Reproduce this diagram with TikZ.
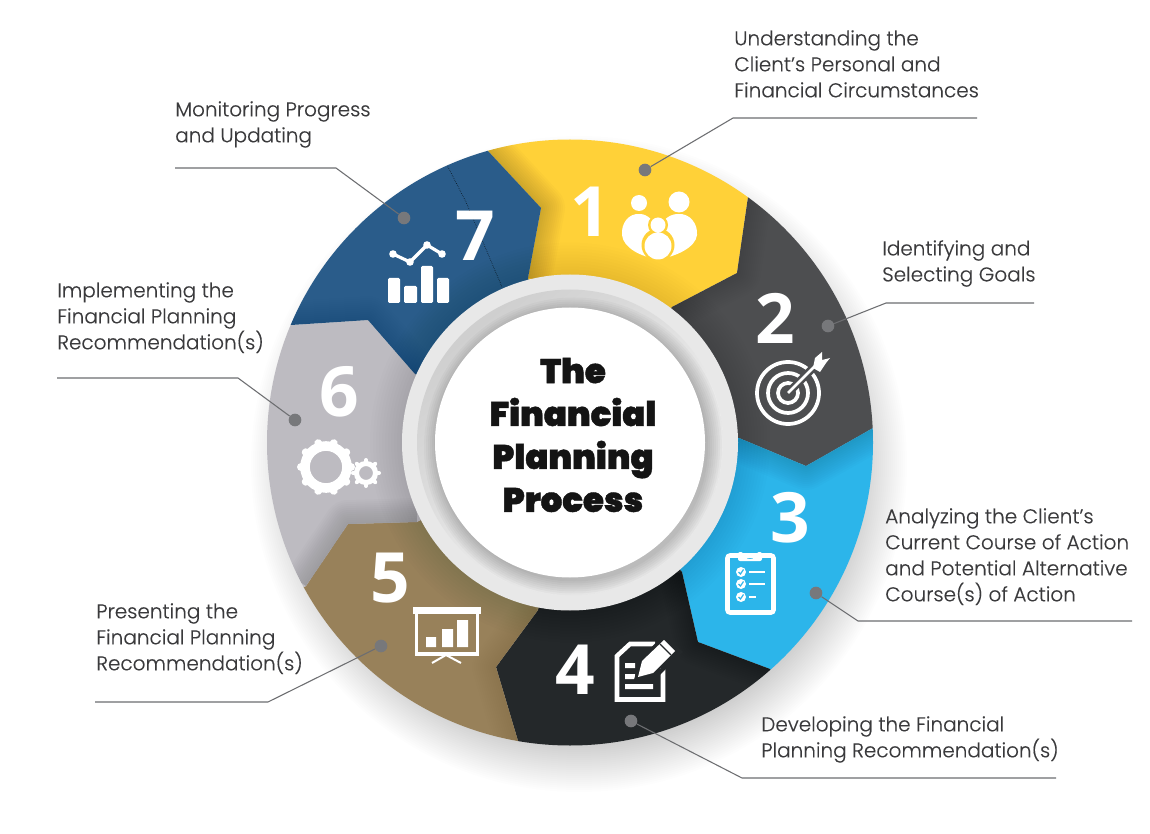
\documentclass[tikz,border=0pt]{standalone}
\usepackage{fontspec}
\usetikzlibrary{calc}
\setmainfont{Poppins}[UprightFont={* Light}]
\newfontfamily\lblf{Poppins}[UprightFont={* Light},FakeBold=0.35]
\newfontfamily\numf{Open Sans}[UprightFont={* Bold}]
\newfontfamily\titlef{Poppins}[UprightFont={* Black},FakeBold=1.2]
\definecolor{cYellow}{HTML}{FFD138}
\definecolor{cSlate}{HTML}{4D4E50}
\definecolor{cSky}{HTML}{2CB5EA}
\definecolor{cInk}{HTML}{24282A}
\definecolor{cBrown}{HTML}{98815A}
\definecolor{cGrey}{HTML}{BDBBC1}
\definecolor{cNavy}{HTML}{2A5C8A}
\definecolor{cDot}{HTML}{77787B}
\definecolor{cLead}{HTML}{6D6E71}
\definecolor{cText}{HTML}{3A3A3C}
\tikzset{
  x=0.75pt,y=-0.75pt,
  numeral/.style={font=\numf\fontsize{52}{52}\selectfont,text=white,inner sep=0pt},
  label/.style={font=\lblf\fontsize{15}{19.5}\selectfont,text=cText,align=left,anchor=north west,inner sep=0pt},
  dotmark/.style={circle,fill=cDot,minimum size=9.5pt,inner sep=0pt},
  leader/.style={draw=cLead,line width=0.8pt},
  ico/.style={draw=white,line width=2.4pt},
}
\newcommand{\seg}[4]{%
  \begin{scope}
    \clip (c) -- (i#1) -- (m#1) -- (o#1) -- ($(c)!1.5!(o#1)$) -- ($(c)!1.5!(o#2)$) -- (o#2) -- (m#2) -- (i#2) -- cycle;
    \fill[#3] (c) circle [radius=310];
    \foreach \w in {3,6,...,36}
      \draw[black,opacity=#4,line width=\w pt,line join=round] (i#1) -- (m#1) -- (o#1);
  \end{scope}}
\begin{document}
\begin{tikzpicture}
\useasboundingbox (0,0) rectangle (1150,834);
\fill[white] (0,0) rectangle (1150,834);
\coordinate (c) at (570,442.5);
% boundaries between neighbouring segments
\coordinate (i1) at (528,278); \coordinate (m1) at (541,208); \coordinate (o1) at (488,151);
\coordinate (i2) at (672,307); \coordinate (m2) at (737,273); \coordinate (o2) at (748,197);
\coordinate (i3) at (739,438); \coordinate (m3) at (806,466); \coordinate (o3) at (873,428);
\coordinate (i4) at (682,572); \coordinate (m4) at (698,642); \coordinate (o4) at (770,669);
\coordinate (i5) at (538,610); \coordinate (m5) at (496,667); \coordinate (o5) at (518,741);
\coordinate (i6) at (417,522); \coordinate (m6) at (348,524); \coordinate (o6) at (306,586);
\coordinate (i7) at (415,374); \coordinate (m7) at (368,320); \coordinate (o7) at (291,325);
% soft shadow under the wheel
\coordinate (sh) at (579,464);
\foreach \r in {280,282,...,328}
  \fill[black,opacity=.0095] (sh) circle [radius=\r];
% wheel
\begin{scope}
  \clip (c) circle [radius=303];
  \seg{1}{2}{cYellow}{.016}
  \seg{2}{3}{cSlate}{.004}
  \seg{3}{4}{cSky}{.012}
  \seg{4}{5}{cInk}{.003}
  \seg{5}{6}{cBrown}{.005}
  \seg{6}{7}{cGrey}{.013}
  \seg{7}{1}{cNavy}{.005}
  \foreach \r in {170,173,...,200}
    \fill[black,opacity=.009] (c) circle [radius=\r];
  \draw[black,line width=.4pt,densely dotted] (447,165) -- (466,202) -- (502,287);
\end{scope}
% centre hub
\fill[fill=white!91!black] (c) circle [radius=168];
\shade[top color=white!81!black,bottom color=white!97!black,shading angle=40] (c) circle [radius=153];
\begin{scope}
  \clip (c) circle [radius=153];
  \foreach \r in {134,136,...,150}
    \fill[black,opacity=.028] ($(c)+(4,5)$) circle [radius=\r];
\end{scope}
\fill[white] (c) circle [radius=135];
\node[font=\titlef\fontsize{25.5}{32.2}\selectfont,text=black!92,align=center,inner sep=0pt] (title) at (573,435) {The\\Financial\\Planning\\Process};
% numerals
\node[numeral] (n1) at (590,212) {1};
\node[numeral] (n2) at (775,318) {2};
\node[numeral] (n3) at (790,518) {3};
\node[numeral] (n4) at (575,670) {4};
\node[numeral] (n5) at (390,578) {5};
\node[numeral] (n6) at (339,392) {6};
\node[numeral] (n7) at (475,236) {7};
% icon 1: family
\fill[white] (639,203) circle [radius=8] (679,202) circle [radius=10.5];
\fill[white] (640,214) .. controls (628,213) and (621,224) .. (622,235) .. controls (623,247) and (640,257) .. (658,259)
  .. controls (676,257) and (696,247) .. (697,235) .. controls (698,224) and (690,213) .. (678,214) .. controls (668,214) and (662,222) .. (658,228) .. controls (654,222) and (648,214) .. (640,214) -- cycle;
\fill[cYellow] (658,245) circle [radius=16.5] (658,225) circle [radius=10];
\fill[white] (658,225) circle [radius=7.5] (658,246) circle [radius=13.5];
% icon 2: target
\begin{scope}[line width=2.8pt]
  \draw[white] (788,393) circle [radius=31];
  \draw[white] (788,393) circle [radius=20];
  \draw[white] (788,393) circle [radius=10];
  \draw[cSlate,line width=6pt] (788,393) -- (820,361);
  \draw[white,line width=2.1pt] (788,393) -- (820,361);
  \fill[white] (813,368) -- (815,358) -- (822,352) -- (822,360) -- (830,358) -- (826,363) -- (820,372) -- cycle;
\end{scope}
% icon 3: clipboard
\draw[draw=white,line width=3.5pt,rounded corners=2pt] (727.5,555.5) rectangle (773.5,612.5);
\fill[white,rounded corners=1.5pt] (738,561) -- (738,552) -- (743,552) arc [start angle=180,end angle=0,radius=7] -- (762,552) -- (762,561) -- cycle;
\fill[cSky] (750,550) circle [radius=2.5];
\foreach \yy/\xe in {572/765,584/765,597/756}{
  \fill[white] (741,\yy) circle [radius=5];
  \draw[white,line width=1.8pt] (749,\yy) -- (\xe,\yy);
  \draw[cSky,line width=.9pt] (738.5,\yy) -- (740.5,{\yy+2}) -- (743.5,{\yy-2.5});
}
% icon 4: document and pencil
\draw[draw=white,line width=3.4pt] (663,668) -- (663,699.5) -- (617,699.5) -- (617,656) -- (630,644) -- (655,644);
\fill[white] (625,663) rectangle (635,668) (625,674) rectangle (635,679) (625,684) rectangle (653,689);
\draw[cInk,line width=3pt] (636,680) -- (642,660) -- (664,637) -- (680,652) -- (655,677) -- cycle;
\fill[white] (638,677) -- (642,661) -- (664,640) -- (675,651) -- (653,673) -- cycle;
\draw[cInk,line width=1pt] (660,644) -- (671,655);
% icon 5: presentation board
\fill[white] (413,607) rectangle (481,614);
\draw[ico] (416.5,613) -- (416.5,654) -- (477.5,654) -- (477.5,613);
\fill[white] (426,637) rectangle (436,647) (442,629) rectangle (453,647) (457,620) rectangle (468,647);
\draw[white,line width=1.5pt] (432,663) -- (446,655) -- (461,663);
% icon 6: gears
\draw[white,line width=7.2pt] (326,467) circle [radius=21];
\foreach \a in {0,36,...,324}
  \draw[white,line width=6pt,line cap=round] ($(326,467)+(\a:22)$) -- ($(326,467)+(\a:25)$);
\draw[white,line width=3.8pt] (366,473) circle [radius=9.5];
\foreach \a in {0,45,...,315}
  \draw[white,line width=3pt,line cap=round] ($(366,473)+(\a:10)$) -- ($(366,473)+(\a:13)$);
% icon 7: chart
\fill[white,rounded corners=1pt] (388,278) rectangle (400,303);
\fill[white,rounded corners=1pt] (404,286) rectangle (417,303);
\fill[white,rounded corners=1pt] (421,266) rectangle (433,303);
\fill[white,rounded corners=1pt] (437,278) rectangle (449,303);
\draw[white,line width=2.4pt] (393,254) -- (410,262) -- (427,245) -- (442,254);
\fill[white] (393,254) circle [radius=3.8] (410,262) circle [radius=3.8] (427,245) circle [radius=3.8] (442,254) circle [radius=3.8];
% labels
\node[label] (l1) at (734,30) {Understanding the\\Client’s Personal and\\Financial Circumstances};
\node[label] (l2) at (882,240) {Identifying and\\Selecting Goals};
\node[label] (l3) at (885,508) {Analyzing the Client’s\\Current Course of Action\\and Potential Alternative\\Course(s) of Action};
\node[label] (l4) at (761,716) {Developing the Financial\\Planning Recommendation(s)};
\node[label] (l5) at (96,603) {Presenting the\\Financial Planning\\Recommendation(s)};
\node[label] (l6) at (57,282) {Implementing the\\Financial Planning\\Recommendation(s)};
\node[label] (l7) at (175,101) {Monitoring Progress\\and Updating};
% dots and leaders
\node[dotmark] (d1) at (645,170) {};
\node[dotmark] (d2) at (828,326) {};
\node[dotmark] (d3) at (816,593) {};
\node[dotmark] (d4) at (631,721) {};
\node[dotmark] (d5) at (381,646) {};
\node[dotmark] (d6) at (295,420) {};
\node[dotmark] (d7) at (404,218) {};
\coordinate (e1) at (977,118); \coordinate (e2) at (1034,303); \coordinate (e3) at (1132,621);
\coordinate (e4) at (1056,778); \coordinate (e5) at (95,702); \coordinate (e6) at (57,378); \coordinate (e7) at (175,168);
\draw[leader] (d1) -- (733,118) -- (e1);
\draw[leader] (d2) -- (886,303) -- (e2);
\draw[leader] (d3) -- (858,621) -- (e3);
\draw[leader] (d4) -- (742,778) -- (e4);
\draw[leader] (d5) -- (268,702) -- (e5);
\draw[leader] (d6) -- (238,378) -- (e6);
\draw[leader] (d7) -- (336,168) -- (e7);
\end{tikzpicture}
\end{document}
